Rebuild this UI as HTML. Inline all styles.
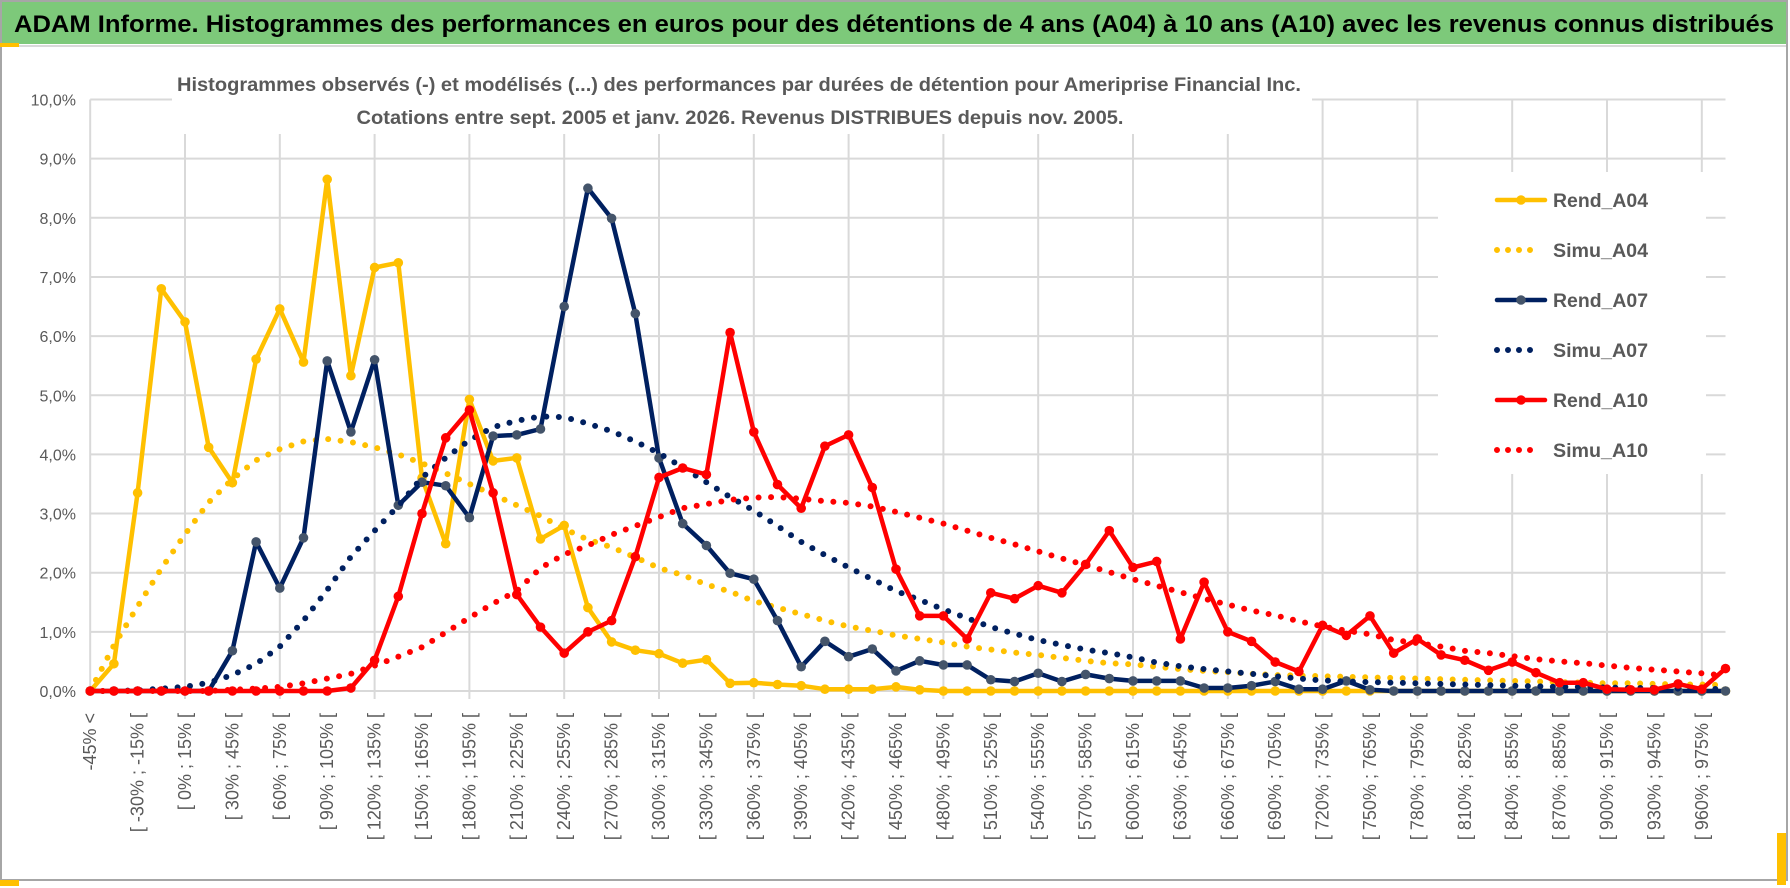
<!DOCTYPE html>
<html><head><meta charset="utf-8"><style>
html,body{margin:0;padding:0;background:#fff;}
svg{display:block;font-family:"Liberation Sans",sans-serif;}
</style></head><body>
<svg id="chart" width="1790" height="888" viewBox="0 0 1790 888" xmlns="http://www.w3.org/2000/svg">
  <rect x="0" y="0" width="1790" height="888" fill="#fff"/>
  <rect x="1" y="1" width="1786" height="879" fill="none" stroke="#a6a6a6" stroke-width="2"/>
  <rect x="2" y="2" width="1784" height="42" fill="#7dc97a"/>
  <line x1="2" y1="46" x2="1786" y2="46" stroke="#d9d9d9" stroke-width="2"/>
  <rect x="0" y="43" width="19" height="4" fill="#ffc000"/>
  <rect x="0" y="880" width="19" height="6" fill="#ffc000"/>
  <rect x="1777" y="833" width="9" height="52" fill="#ffc000"/>
  <text x="14" y="32" font-size="24" font-weight="bold" fill="#000" textLength="1760" lengthAdjust="spacingAndGlyphs">ADAM Informe. Histogrammes des performances en euros pour des détentions de 4 ans (A04) à 10 ans (A10) avec les revenus connus distribués</text>
  <g id="grid"></g>
  <rect x="172" y="66" width="1140" height="68" fill="#fff"/>
  <text x="739" y="91" text-anchor="middle" font-size="19" font-weight="bold" fill="#595959" textLength="1124" lengthAdjust="spacingAndGlyphs">Histogrammes observés (-) et modélisés (...) des performances par durées de détention pour Ameriprise Financial Inc.</text>
  <text x="740" y="124" text-anchor="middle" font-size="19" font-weight="bold" fill="#595959" textLength="767" lengthAdjust="spacingAndGlyphs">Cotations entre sept. 2005 et janv. 2026. Revenus DISTRIBUES depuis nov. 2005.</text>
  <g id="yaxis"></g>
  <g id="xaxis"></g>
  <g id="series"></g>
  <g id="legend"></g>
</svg>
<script>
const categories = ["-45% <"];
for (let k = 1; k < 70; k++) { categories.push("[ " + (-45 + 15*(k-1)) + "% ; " + (-30 + 15*(k-1)) + "% ["); }
const yTicks = [0,1,2,3,4,5,6,7,8,9,10];
const yTickLabels = ["0,0%","1,0%","2,0%","3,0%","4,0%","5,0%","6,0%","7,0%","8,0%","9,0%","10,0%"];
const rendA04 = [0,0.46,3.35,6.8,6.24,4.12,3.52,5.61,6.46,5.56,8.65,5.33,7.16,7.24,3.6,2.49,4.93,3.89,3.94,2.57,2.8,1.41,0.83,0.69,0.63,0.47,0.53,0.13,0.14,0.11,0.09,0.03,0.03,0.03,0.07,0.02,0,0,0,0,0,0,0,0,0,0,0,0,0,0,0,0,0,0,0,0,0,0,0,0,0,0,0,0,0,0,0,0,0,0];
const simuA04 = [0,0.77,1.43,2.07,2.65,3.19,3.58,3.9,4.09,4.22,4.26,4.21,4.12,4.0,3.85,3.68,3.5,3.32,3.14,2.96,2.74,2.56,2.43,2.26,2.08,1.96,1.8,1.68,1.52,1.41,1.3,1.19,1.09,1.02,0.94,0.88,0.82,0.75,0.7,0.65,0.61,0.56,0.51,0.47,0.45,0.41,0.37,0.34,0.32,0.29,0.27,0.26,0.25,0.24,0.23,0.22,0.21,0.2,0.19,0.18,0.17,0.16,0.15,0.14,0.13,0.13,0.12,0.11,0.11,0.1];
const rendA07 = [0,0,0,0,0,0,0.68,2.52,1.74,2.59,5.58,4.38,5.6,3.14,3.53,3.47,2.93,4.31,4.33,4.43,6.5,8.5,7.99,6.38,3.94,2.83,2.46,1.99,1.89,1.19,0.41,0.84,0.58,0.71,0.34,0.51,0.44,0.44,0.19,0.16,0.3,0.16,0.28,0.21,0.17,0.17,0.17,0.05,0.05,0.09,0.16,0.03,0.03,0.17,0.02,0,0,0,0,0,0,0,0,0,0,0,0,0,0,0];
const simuA07 = [0,0,0.01,0.04,0.07,0.14,0.27,0.46,0.75,1.19,1.71,2.27,2.71,3.13,3.61,3.94,4.24,4.46,4.57,4.64,4.63,4.52,4.39,4.22,4.02,3.78,3.53,3.28,3.05,2.79,2.52,2.3,2.09,1.89,1.69,1.54,1.38,1.23,1.08,0.97,0.86,0.78,0.7,0.64,0.57,0.48,0.42,0.37,0.33,0.29,0.25,0.21,0.18,0.16,0.15,0.14,0.13,0.12,0.11,0.1,0.09,0.08,0.07,0.07,0.06,0.05,0.05,0.04,0.04,0.03];
const rendA10 = [0,0,0,0,0,0,0,0,0,0,0,0.05,0.52,1.6,3.0,4.28,4.75,3.35,1.63,1.08,0.64,1.0,1.19,2.27,3.61,3.77,3.66,6.06,4.38,3.49,3.09,4.14,4.33,3.44,2.06,1.27,1.27,0.88,1.66,1.56,1.78,1.66,2.14,2.71,2.09,2.19,0.88,1.84,1.0,0.84,0.49,0.33,1.11,0.94,1.27,0.64,0.88,0.61,0.52,0.35,0.49,0.31,0.14,0.14,0.03,0.02,0.02,0.12,0.03,0.38];
const simuA10 = [0,0,0,0,0,0,0.02,0.04,0.07,0.13,0.21,0.29,0.43,0.58,0.74,0.99,1.24,1.48,1.69,2.08,2.31,2.46,2.64,2.79,2.94,3.09,3.16,3.23,3.27,3.28,3.25,3.21,3.18,3.12,3.03,2.93,2.83,2.71,2.59,2.48,2.36,2.24,2.13,2.01,1.89,1.78,1.67,1.56,1.46,1.36,1.28,1.18,1.09,1.02,0.96,0.86,0.81,0.75,0.68,0.64,0.59,0.54,0.5,0.47,0.43,0.39,0.36,0.33,0.3,0.26];
const seriesNames = ["Rend_A04","Simu_A04","Rend_A07","Simu_A07","Rend_A10","Simu_A10"];

const NS = "http://www.w3.org/2000/svg";
const X0 = 90.2, DX = 23.7, Y0 = 691, DY = 59.15;
const PLOT_RIGHT = X0 + DX*(categories.length-1);
function xScale(i){ return X0 + DX*i; }
function yScale(v){ return Y0 - DY*v; }
function mk(tag, attrs, parent){ const e = document.createElementNS(NS, tag); for (const k in attrs) e.setAttribute(k, attrs[k]); parent.appendChild(e); return e; }

const grid = document.getElementById('grid');
yTicks.forEach(function(t){
  const l = mk('line', {x1:X0, x2:PLOT_RIGHT, y1:yScale(t), y2:yScale(t), stroke:'#d9d9d9', 'stroke-width':2}, grid);
  
  
});
for (let i = 0; i < categories.length; i += 4) {
  const l = mk('line', {x1:xScale(i), x2:xScale(i), y1:yScale(10), y2:Y0 + (i===0?0:8), stroke:'#d9d9d9', 'stroke-width':2}, grid);
  
  
}

const yaxis = document.getElementById('yaxis');
yTicks.forEach(function(t, k){
  const tx = mk('text', {x:76, y:yScale(t)+6, 'text-anchor':'end', 'font-size':16, fill:'#595959'}, yaxis);
  tx.textContent = yTickLabels[k];
  
  
});

const xaxis = document.getElementById('xaxis');
for (let i = 0; i < categories.length; i += 2) {
  const x = xScale(i) + 6;
  const tx = mk('text', {x:x, y:713, 'text-anchor':'end', 'font-size':18, fill:'#595959', transform:'rotate(-90 ' + x + ' 713)'}, xaxis);
  tx.textContent = categories[i];
  
  
}

const seriesG = document.getElementById('series');
function drawSeries(vals, color, dotted, markerColor, name){
  const g = mk('g', {}, seriesG);
  
  
  const pts = vals.map(function(v, i){ return xScale(i).toFixed(1) + ',' + yScale(v).toFixed(1); }).join(' ');
  const pl = mk('polyline', {points:pts, fill:'none', stroke:color, 'stroke-width': dotted?6:4.5, 'stroke-linejoin':'round', 'stroke-linecap':'round'}, g);
  if (dotted) pl.setAttribute('stroke-dasharray', '0 12.5');
  
  
  if (!dotted) {
    vals.forEach(function(v, i){
      const c = mk('circle', {cx:xScale(i), cy:yScale(v), r:4.8, fill:markerColor}, g);
      
      
    });
  }
}
drawSeries(rendA04, '#ffc000', false, '#ffc000', 'rend-a04');
drawSeries(simuA04, '#ffc000', true, null, 'simu-a04');
drawSeries(rendA07, '#002060', false, '#44546a', 'rend-a07');
drawSeries(simuA07, '#002060', true, null, 'simu-a07');
drawSeries(rendA10, '#ff0000', false, '#ff0000', 'rend-a10');
drawSeries(simuA10, '#ff0000', true, null, 'simu-a10');

const legend = document.getElementById('legend');
const lb = mk('rect', {x:1438, y:172, width:268, height:302, fill:'#fff'}, legend);


const legColors = ['#ffc000','#ffc000','#002060','#002060','#ff0000','#ff0000'];
const legMarker = ['#ffc000',null,'#44546a',null,'#ff0000',null];
seriesNames.forEach(function(n, k){
  const y = 200 + 50*k;
  const g = mk('g', {}, legend);
  
  
  const dotted = k % 2 === 1;
  const ln = mk('line', {x1:1497, x2:dotted?1541:1545, y1:y, y2:y, stroke:legColors[k], 'stroke-width':dotted?6:4.5, 'stroke-linecap':'round'}, g);
  if (dotted) ln.setAttribute('stroke-dasharray', '0 11');
  if (legMarker[k]) mk('circle', {cx:1521, cy:y, r:4.8, fill:legMarker[k]}, g);
  const t = mk('text', {x:1553, y:y+7, 'font-size':19, 'font-weight':'bold', fill:'#595959', textLength:95, lengthAdjust:'spacingAndGlyphs'}, g);
  t.textContent = n;
});
</script>
</body></html>
